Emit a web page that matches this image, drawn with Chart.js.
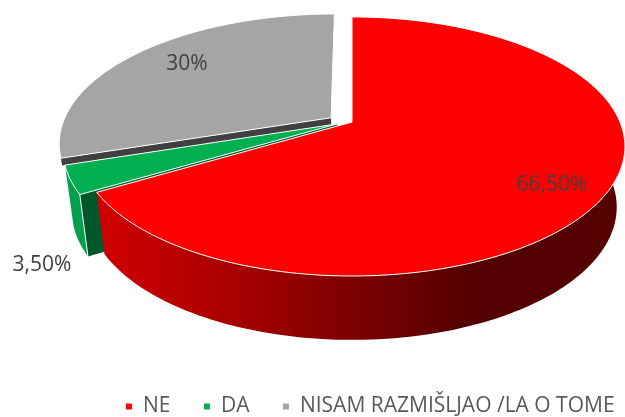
<!DOCTYPE html>
<html lang="hr">
<head>
    <meta charset="UTF-8">
    <title>Pie 3D</title>
    <script src="https://cdn.jsdelivr.net/npm/chart.js"></script>
    <style>
        html, body { margin: 0; background: white; }
        canvas { display: block; }
    </style>
</head>
<body>
    <canvas id="pie" width="625" height="417"></canvas>
    <script>
        const categories = ['NE', 'DA', 'NISAM RAZMIŠLJAO /LA O TOME'];
        const shares = [66.5, 3.5, 30];
        const shareLabels = ['66,50%', '3,50%', '30%'];
        const faceColors = ['#FF0000', '#00B050', '#A5A5A5'];

        // camera for the fake 3D look, tilt + perspective + thickness
        const view = { x: 352, y: 122, tilt: 0.466, persp: 0.189, depth: 60, shrinkX: 0.97, shrinkY: 1.025, liftSquash: 0.6 };

        function project(arc, angle, rad, bottom) {
            const R = arc.outerRadius;
            const mid = (arc.startAngle + arc.endAngle) / 2;
            const off = arc.options.offset;
            const u = (rad * R * Math.cos(angle) + off * Math.cos(mid)) / R;
            const v = (rad * R * Math.sin(angle) + off * view.liftSquash * Math.sin(mid)) / R;
            const w = 1 - view.persp * v;
            return [
                view.x + (bottom ? view.shrinkX : 1) * R * u / w,
                view.y + (bottom ? view.depth : 0) + (bottom ? view.shrinkY : 1) * view.tilt * R * v / w
            ];
        }

        function rimAngles(arc) {
            const list = [];
            const n = Math.max(2, Math.ceil((arc.endAngle - arc.startAngle) * 40));
            for (let i = 0; i <= n; i++) {
                list.push(arc.startAngle + (arc.endAngle - arc.startAngle) * i / n);
            }
            return list;
        }

        function mix(a, b, t) {
            return [a[0] + (b[0] - a[0]) * t, a[1] + (b[1] - a[1]) * t];
        }

        function fillPath(ctx, pts, fill, stroke, lw) {
            ctx.beginPath();
            pts.forEach((p, i) => i ? ctx.lineTo(p[0], p[1]) : ctx.moveTo(p[0], p[1]));
            ctx.closePath();
            ctx.fillStyle = fill;
            ctx.fill();
            if (stroke) {
                ctx.strokeStyle = stroke;
                ctx.lineWidth = lw;
                ctx.stroke();
            }
        }

        const pie3d = {
            id: 'pie3d',
            beforeDatasetsDraw(chart, args, opts) {
                const ctx = chart.ctx;
                const arcs = chart.getDatasetMeta(0).data;
                // back to front: grey, green, red
                [2, 1, 0].forEach(i => {
                    const arc = arcs[i];
                    const angles = rimAngles(arc);
                    const top = angles.map(a => project(arc, a, 1, false));
                    const bot = angles.map(a => project(arc, a, 1, true));
                    const apexTop = project(arc, 0, 0, false);
                    const apexBot = project(arc, 0, 0, true);

                    // cut wall, only the one facing us
                    if (opts.cutColors[i]) {
                        const t = opts.cutDepth[i];
                        fillPath(ctx, [apexTop, top[0], mix(top[0], bot[0], t), mix(apexTop, apexBot, t)], opts.cutColors[i]);
                    }

                    // outer wall, front half of the rim only
                    if (opts.wallStops[i]) {
                        const front = angles.filter(a => Math.sin(a) > 0);
                        const wallTop = front.map(a => project(arc, a, 1, false));
                        const wallBot = front.map(a => project(arc, a, 1, true));
                        const grad = ctx.createLinearGradient(opts.wallFrom, 0, opts.wallTo, 0);
                        opts.wallStops[i].forEach(([pos, col]) => grad.addColorStop(pos, col));
                        fillPath(ctx, wallTop.concat(wallBot.reverse()), grad);
                    }

                    // white line down the corner of the green piece
                    if (i === 1) {
                        ctx.beginPath();
                        ctx.moveTo(top[0][0], top[0][1]);
                        ctx.lineTo(bot[0][0], bot[0][1]);
                        ctx.strokeStyle = '#FFFFFF';
                        ctx.lineWidth = 1;
                        ctx.stroke();
                    }

                    // top face
                    fillPath(ctx, [apexTop].concat(top), arc.options.backgroundColor, arc.options.borderColor, arc.options.borderWidth);
                });

                ctx.save();
                ctx.font = opts.font;
                ctx.fillStyle = opts.color;
                ctx.textAlign = 'center';
                ctx.textBaseline = 'middle';
                shareLabels.forEach((t, i) => ctx.fillText(t, opts.labelAt[i][0], opts.labelAt[i][1]));
                ctx.restore();
                return false;
            }
        };

        new Chart(document.getElementById('pie'), {
            type: 'pie',
            plugins: [pie3d],
            data: {
                labels: categories,
                datasets: [{
                    data: shares,
                    backgroundColor: faceColors,
                    borderColor: '#FFFFFF',
                    borderWidth: 1,
                    offset: [0, 16, 26],
                    radius: 268
                }]
            },
            options: {
                responsive: false,
                animation: false,
                layout: { padding: { left: 80, right: -35, bottom: -10 } },
                plugins: {
                    tooltip: { enabled: false },
                    legend: {
                        position: 'bottom',
                        labels: {
                            boxWidth: 7,
                            boxHeight: 7,
                            padding: 33,
                            color: '#595959',
                            font: { family: '"Open Sans"', size: 21 }
                        }
                    },
                    pie3d: {
                        font: '21px "Open Sans"',
                        color: '#404040',
                        labelAt: [[552, 185], [42, 265], [187, 64]],
                        wallFrom: 95,
                        wallTo: 625,
                        wallStops: [
                            [[0, '#D20000'], [0.3, '#A00000'], [0.7, '#540000'], [1, '#560000']],
                            [[0, '#00A04C'], [1, '#00A04C']],
                            null
                        ],
                        cutColors: [null, '#00582A', '#404040'],
                        cutDepth: [0, 1, 0.12]
                    }
                }
            }
        });
    </script>
</body>
</html>
